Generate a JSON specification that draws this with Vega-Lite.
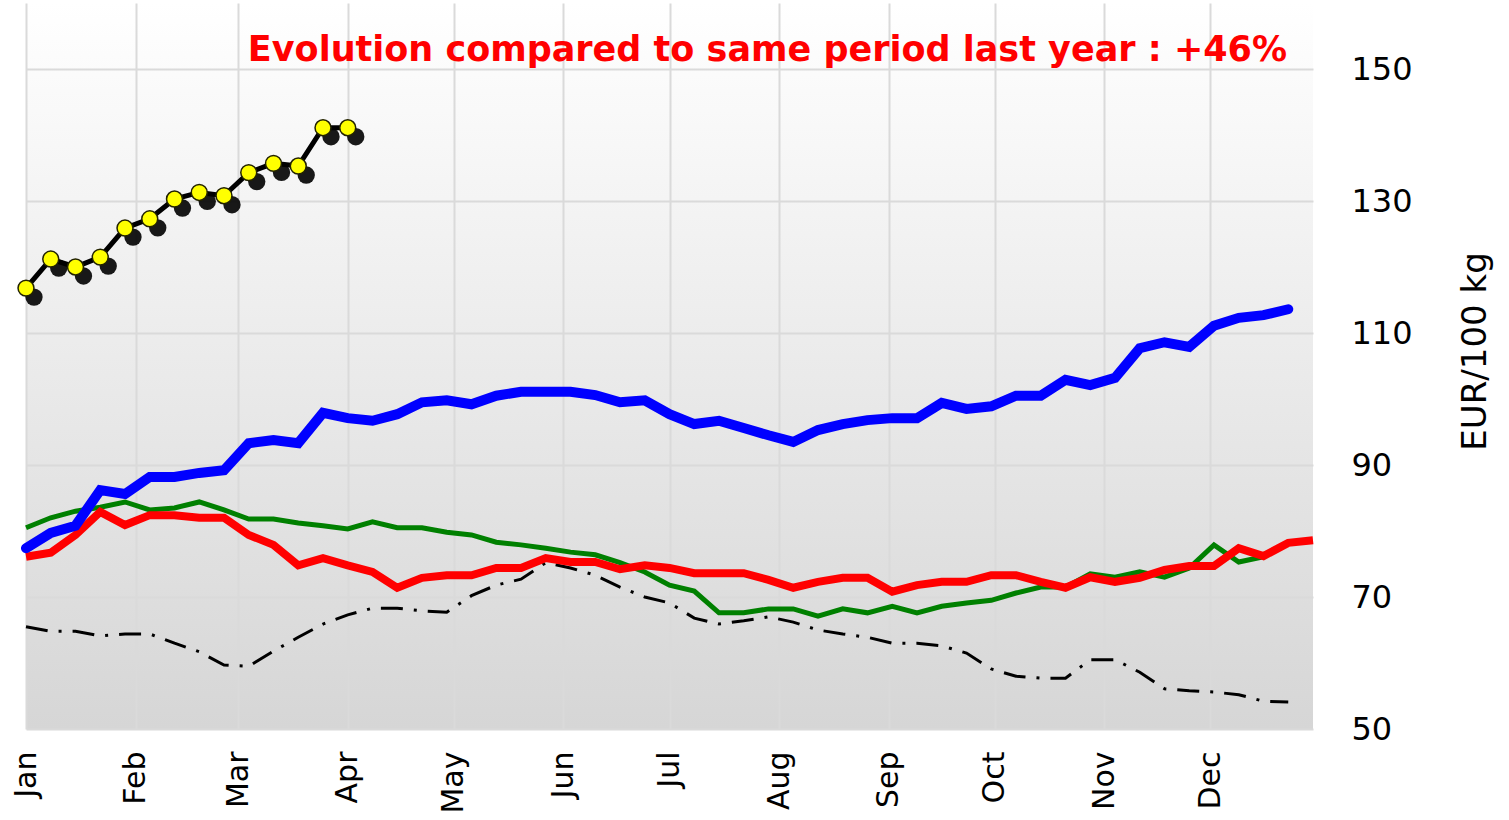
{
 "$schema": "https://vega.github.io/schema/vega-lite/v6.json",
 "width": 1287,
 "height": 726,
 "autosize": "none",
 "padding": {"left": 26, "top": 3, "right": 196, "bottom": 91},
 "background": "white",
 "title": {"text": "Evolution compared to same period last year : +46%", "anchor": "end", "frame": "group", "orient": "top", "offset": -93, "baseline": "alphabetic", "dx": -26, "color": "#ff0000", "font": "DejaVu Sans", "fontSize": 35, "fontWeight": "bold"},
 "config": {
  "view": {"stroke": null, "fill": {"gradient": "linear", "x1": 0, "y1": 0, "x2": 0, "y2": 1, "stops": [{"offset": 0, "color": "#ffffff"}, {"offset": 1, "color": "#d6d6d6"}]}},
  "axis": {"gridColor": "#dadada", "gridWidth": 2, "domain": false, "ticks": false, "tickSize": 0, "labelFont": "DejaVu Sans", "titleFont": "DejaVu Sans", "labelColor": "#000000", "titleColor": "#000000"}
 },
 "data": {"values": [
  {"s":"y","d":"2024-01-01","v":116.8},{"s":"y","d":"2024-01-08","v":121.2},{"s":"y","d":"2024-01-15","v":120.0},{"s":"y","d":"2024-01-22","v":121.5},{"s":"y","d":"2024-01-29","v":125.9},{"s":"y","d":"2024-02-05","v":127.3},{"s":"y","d":"2024-02-12","v":130.3},{"s":"y","d":"2024-02-19","v":131.3},{"s":"y","d":"2024-02-26","v":130.8},{"s":"y","d":"2024-03-04","v":134.3},{"s":"y","d":"2024-03-11","v":135.7},{"s":"y","d":"2024-03-18","v":135.3},{"s":"y","d":"2024-03-25","v":141.1},{"s":"y","d":"2024-04-01","v":141.1},
  {"s":"b","d":"2024-01-01","v":77.4},{"s":"b","d":"2024-01-08","v":79.7},{"s":"b","d":"2024-01-15","v":80.8},{"s":"b","d":"2024-01-22","v":86.2},{"s":"b","d":"2024-01-29","v":85.6},{"s":"b","d":"2024-02-05","v":88.2},{"s":"b","d":"2024-02-12","v":88.2},{"s":"b","d":"2024-02-19","v":88.8},{"s":"b","d":"2024-02-26","v":89.2},{"s":"b","d":"2024-03-04","v":93.3},{"s":"b","d":"2024-03-11","v":93.8},{"s":"b","d":"2024-03-18","v":93.3},{"s":"b","d":"2024-03-25","v":97.9},{"s":"b","d":"2024-04-01","v":97.1},{"s":"b","d":"2024-04-08","v":96.7},{"s":"b","d":"2024-04-15","v":97.7},{"s":"b","d":"2024-04-22","v":99.5},{"s":"b","d":"2024-04-29","v":99.8},{"s":"b","d":"2024-05-06","v":99.2},{"s":"b","d":"2024-05-13","v":100.5},{"s":"b","d":"2024-05-20","v":101.1},{"s":"b","d":"2024-05-27","v":101.1},{"s":"b","d":"2024-06-03","v":101.1},{"s":"b","d":"2024-06-10","v":100.6},{"s":"b","d":"2024-06-17","v":99.5},{"s":"b","d":"2024-06-24","v":99.8},{"s":"b","d":"2024-07-01","v":97.7},{"s":"b","d":"2024-07-08","v":96.2},{"s":"b","d":"2024-07-15","v":96.7},{"s":"b","d":"2024-07-22","v":95.6},{"s":"b","d":"2024-07-29","v":94.5},{"s":"b","d":"2024-08-05","v":93.5},{"s":"b","d":"2024-08-12","v":95.3},{"s":"b","d":"2024-08-19","v":96.2},{"s":"b","d":"2024-08-26","v":96.8},{"s":"b","d":"2024-09-02","v":97.1},{"s":"b","d":"2024-09-09","v":97.1},{"s":"b","d":"2024-09-16","v":99.4},{"s":"b","d":"2024-09-23","v":98.5},{"s":"b","d":"2024-09-30","v":98.9},{"s":"b","d":"2024-10-07","v":100.5},{"s":"b","d":"2024-10-14","v":100.5},{"s":"b","d":"2024-10-21","v":102.9},{"s":"b","d":"2024-10-28","v":102.1},{"s":"b","d":"2024-11-04","v":103.2},{"s":"b","d":"2024-11-11","v":107.7},{"s":"b","d":"2024-11-18","v":108.6},{"s":"b","d":"2024-11-25","v":107.9},{"s":"b","d":"2024-12-02","v":111.1},{"s":"b","d":"2024-12-09","v":112.3},{"s":"b","d":"2024-12-16","v":112.7},{"s":"b","d":"2024-12-23","v":113.6},
  {"s":"r","d":"2024-01-01","v":76.1},{"s":"r","d":"2024-01-08","v":76.7},{"s":"r","d":"2024-01-15","v":79.4},{"s":"r","d":"2024-01-22","v":82.9},{"s":"r","d":"2024-01-29","v":80.9},{"s":"r","d":"2024-02-05","v":82.4},{"s":"r","d":"2024-02-12","v":82.4},{"s":"r","d":"2024-02-19","v":82.0},{"s":"r","d":"2024-02-26","v":82.0},{"s":"r","d":"2024-03-04","v":79.4},{"s":"r","d":"2024-03-11","v":77.9},{"s":"r","d":"2024-03-18","v":74.8},{"s":"r","d":"2024-03-25","v":75.9},{"s":"r","d":"2024-04-01","v":74.8},{"s":"r","d":"2024-04-08","v":73.8},{"s":"r","d":"2024-04-15","v":71.4},{"s":"r","d":"2024-04-22","v":72.9},{"s":"r","d":"2024-04-29","v":73.3},{"s":"r","d":"2024-05-06","v":73.3},{"s":"r","d":"2024-05-13","v":74.4},{"s":"r","d":"2024-05-20","v":74.4},{"s":"r","d":"2024-05-27","v":75.9},{"s":"r","d":"2024-06-03","v":75.3},{"s":"r","d":"2024-06-10","v":75.3},{"s":"r","d":"2024-06-17","v":74.2},{"s":"r","d":"2024-06-24","v":74.8},{"s":"r","d":"2024-07-01","v":74.4},{"s":"r","d":"2024-07-08","v":73.6},{"s":"r","d":"2024-07-15","v":73.6},{"s":"r","d":"2024-07-22","v":73.6},{"s":"r","d":"2024-07-29","v":72.6},{"s":"r","d":"2024-08-05","v":71.4},{"s":"r","d":"2024-08-12","v":72.3},{"s":"r","d":"2024-08-19","v":72.9},{"s":"r","d":"2024-08-26","v":72.9},{"s":"r","d":"2024-09-02","v":70.8},{"s":"r","d":"2024-09-09","v":71.8},{"s":"r","d":"2024-09-16","v":72.3},{"s":"r","d":"2024-09-23","v":72.3},{"s":"r","d":"2024-09-30","v":73.3},{"s":"r","d":"2024-10-07","v":73.3},{"s":"r","d":"2024-10-14","v":72.3},{"s":"r","d":"2024-10-21","v":71.4},{"s":"r","d":"2024-10-28","v":73.0},{"s":"r","d":"2024-11-04","v":72.3},{"s":"r","d":"2024-11-11","v":72.9},{"s":"r","d":"2024-11-18","v":74.1},{"s":"r","d":"2024-11-25","v":74.7},{"s":"r","d":"2024-12-02","v":74.7},{"s":"r","d":"2024-12-09","v":77.4},{"s":"r","d":"2024-12-16","v":76.2},{"s":"r","d":"2024-12-23","v":78.2},{"s":"r","d":"2024-12-30","v":78.6},
  {"s":"g","d":"2024-01-01","v":80.5},{"s":"g","d":"2024-01-08","v":82.0},{"s":"g","d":"2024-01-15","v":83.0},{"s":"g","d":"2024-01-22","v":83.6},{"s":"g","d":"2024-01-29","v":84.4},{"s":"g","d":"2024-02-05","v":83.2},{"s":"g","d":"2024-02-12","v":83.5},{"s":"g","d":"2024-02-19","v":84.4},{"s":"g","d":"2024-02-26","v":83.2},{"s":"g","d":"2024-03-04","v":81.8},{"s":"g","d":"2024-03-11","v":81.8},{"s":"g","d":"2024-03-18","v":81.2},{"s":"g","d":"2024-03-25","v":80.8},{"s":"g","d":"2024-04-01","v":80.3},{"s":"g","d":"2024-04-08","v":81.4},{"s":"g","d":"2024-04-15","v":80.5},{"s":"g","d":"2024-04-22","v":80.5},{"s":"g","d":"2024-04-29","v":79.8},{"s":"g","d":"2024-05-06","v":79.4},{"s":"g","d":"2024-05-13","v":78.3},{"s":"g","d":"2024-05-20","v":77.9},{"s":"g","d":"2024-05-27","v":77.4},{"s":"g","d":"2024-06-03","v":76.8},{"s":"g","d":"2024-06-10","v":76.4},{"s":"g","d":"2024-06-17","v":75.2},{"s":"g","d":"2024-06-24","v":73.8},{"s":"g","d":"2024-07-01","v":71.8},{"s":"g","d":"2024-07-08","v":70.9},{"s":"g","d":"2024-07-15","v":67.6},{"s":"g","d":"2024-07-22","v":67.6},{"s":"g","d":"2024-07-29","v":68.2},{"s":"g","d":"2024-08-05","v":68.2},{"s":"g","d":"2024-08-12","v":67.1},{"s":"g","d":"2024-08-19","v":68.2},{"s":"g","d":"2024-08-26","v":67.6},{"s":"g","d":"2024-09-02","v":68.6},{"s":"g","d":"2024-09-09","v":67.6},{"s":"g","d":"2024-09-16","v":68.6},{"s":"g","d":"2024-09-23","v":69.1},{"s":"g","d":"2024-09-30","v":69.5},{"s":"g","d":"2024-10-07","v":70.6},{"s":"g","d":"2024-10-14","v":71.5},{"s":"g","d":"2024-10-21","v":71.5},{"s":"g","d":"2024-10-28","v":73.5},{"s":"g","d":"2024-11-04","v":73.0},{"s":"g","d":"2024-11-11","v":73.8},{"s":"g","d":"2024-11-18","v":73.0},{"s":"g","d":"2024-11-25","v":74.4},{"s":"g","d":"2024-12-02","v":77.9},{"s":"g","d":"2024-12-09","v":75.3},{"s":"g","d":"2024-12-16","v":76.1},
  {"s":"k","d":"2024-01-01","v":65.5},{"s":"k","d":"2024-01-08","v":64.8},{"s":"k","d":"2024-01-15","v":64.8},{"s":"k","d":"2024-01-22","v":64.1},{"s":"k","d":"2024-01-29","v":64.4},{"s":"k","d":"2024-02-05","v":64.4},{"s":"k","d":"2024-02-12","v":63.0},{"s":"k","d":"2024-02-19","v":61.7},{"s":"k","d":"2024-02-26","v":59.7},{"s":"k","d":"2024-03-04","v":59.5},{"s":"k","d":"2024-03-11","v":61.8},{"s":"k","d":"2024-03-18","v":63.9},{"s":"k","d":"2024-03-25","v":65.9},{"s":"k","d":"2024-04-01","v":67.3},{"s":"k","d":"2024-04-08","v":68.3},{"s":"k","d":"2024-04-15","v":68.3},{"s":"k","d":"2024-04-22","v":67.9},{"s":"k","d":"2024-04-29","v":67.7},{"s":"k","d":"2024-05-06","v":70.2},{"s":"k","d":"2024-05-13","v":71.8},{"s":"k","d":"2024-05-20","v":72.7},{"s":"k","d":"2024-05-27","v":75.2},{"s":"k","d":"2024-06-03","v":74.4},{"s":"k","d":"2024-06-10","v":73.3},{"s":"k","d":"2024-06-17","v":71.5},{"s":"k","d":"2024-06-24","v":70.0},{"s":"k","d":"2024-07-01","v":69.1},{"s":"k","d":"2024-07-08","v":66.8},{"s":"k","d":"2024-07-15","v":65.9},{"s":"k","d":"2024-07-22","v":66.4},{"s":"k","d":"2024-07-29","v":67.0},{"s":"k","d":"2024-08-05","v":66.2},{"s":"k","d":"2024-08-12","v":65.0},{"s":"k","d":"2024-08-19","v":64.4},{"s":"k","d":"2024-08-26","v":63.9},{"s":"k","d":"2024-09-02","v":63.0},{"s":"k","d":"2024-09-09","v":63.0},{"s":"k","d":"2024-09-16","v":62.6},{"s":"k","d":"2024-09-23","v":61.5},{"s":"k","d":"2024-09-30","v":59.1},{"s":"k","d":"2024-10-07","v":58.0},{"s":"k","d":"2024-10-14","v":57.7},{"s":"k","d":"2024-10-21","v":57.7},{"s":"k","d":"2024-10-28","v":60.5},{"s":"k","d":"2024-11-04","v":60.5},{"s":"k","d":"2024-11-11","v":58.6},{"s":"k","d":"2024-11-18","v":56.1},{"s":"k","d":"2024-11-25","v":55.8},{"s":"k","d":"2024-12-02","v":55.6},{"s":"k","d":"2024-12-09","v":55.2},{"s":"k","d":"2024-12-16","v":54.2},{"s":"k","d":"2024-12-23","v":54.1}
 ]},
 "encoding": {
  "x": {"field": "d", "type": "temporal", "title": null,
        "scale": {"type": "utc", "domain": [{"year": 2024, "month": 1, "date": 1, "utc": true}, {"year": 2024, "month": 12, "date": 30, "utc": true}], "nice": false},
        "axis": {"format": "%b", "tickCount": {"interval": "month", "step": 1}, "labelAngle": -90, "labelFontSize": 30, "labelPadding": 22, "labelFlush": false, "labelOverlap": false, "grid": true}},
  "y": {"field": "v", "type": "quantitative",
        "scale": {"domain": [50, 160], "nice": false, "zero": false},
        "axis": {"orient": "right", "values": [50, 70, 90, 110, 130, 150], "labelFontSize": 32, "labelPadding": 38, "title": "EUR/100 kg", "titleFontSize": 34, "titleFontWeight": "normal", "titleAngle": 270, "titlePadding": 80, "titleY": 348, "grid": true}}
 },
 "layer": [
  {"transform": [{"filter": "datum.s == 'k'"}], "mark": {"type": "line", "color": "#000000", "strokeWidth": 3, "strokeDash": [22, 11, 3, 11]}},
  {"transform": [{"filter": "datum.s == 'g'"}], "mark": {"type": "line", "color": "#008000", "strokeWidth": 5}},
  {"transform": [{"filter": "datum.s == 'r'"}], "mark": {"type": "line", "color": "#ff0000", "strokeWidth": 8}},
  {"transform": [{"filter": "datum.s == 'b'"}], "mark": {"type": "line", "color": "#0000ff", "strokeWidth": 10, "strokeCap": "round"}},
  {"transform": [{"filter": "datum.s == 'y'"}], "mark": {"type": "point", "filled": true, "color": "#000000", "size": 300, "opacity": 0.9, "xOffset": 8, "yOffset": 9}},
  {"transform": [{"filter": "datum.s == 'y'"}], "mark": {"type": "line", "color": "#000000", "strokeWidth": 5}},
  {"transform": [{"filter": "datum.s == 'y'"}], "mark": {"type": "point", "filled": true, "fill": "#ffff00", "stroke": "#222200", "strokeWidth": 1.5, "size": 254, "opacity": 1}}
 ]
}
